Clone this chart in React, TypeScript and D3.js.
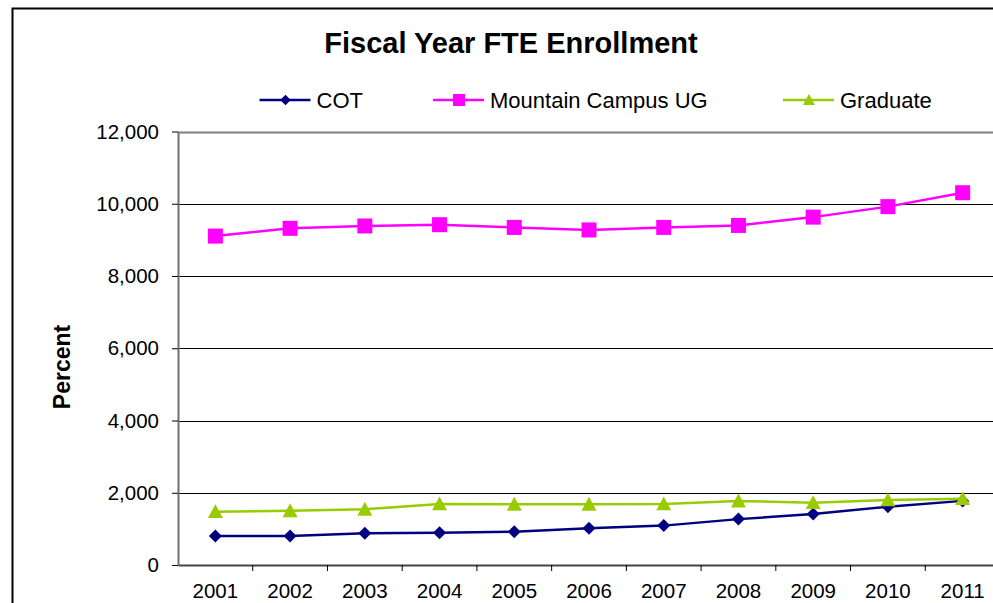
import React, { useEffect, useRef } from "react";
import * as d3 from "d3";

const years = ["2001", "2002", "2003", "2004", "2005", "2006", "2007", "2008", "2009", "2010", "2011"];
const cot = [800, 800, 880, 890, 920, 1015, 1090, 1270, 1410, 1615, 1775];
const mountainUG = [9105, 9320, 9385, 9420, 9345, 9275, 9345, 9400, 9630, 9920, 10305];
const graduate = [1475, 1500, 1540, 1690, 1680, 1680, 1690, 1770, 1725, 1800, 1835];
const yTicks = [0, 2000, 4000, 6000, 8000, 10000, 12000];

const series = [
  { name: "COT", values: cot, color: "#000080", marker: "diamond" },
  { name: "Mountain Campus UG", values: mountainUG, color: "#FF00FF", marker: "square" },
  { name: "Graduate", values: graduate, color: "#99CC00", marker: "triangle" },
];

const App = () => {
  const svgRef = useRef<SVGSVGElement>(null);

  useEffect(() => {
    const width = 993;
    const height = 603;
    const marginLeft = 178;
    const plotRight = 1000;
    const marginTop = 131.5;
    const plotBottom = 565;
    const font = "Liberation Sans, Arial, sans-serif";

    const svg = d3.select(svgRef.current).attr("width", width).attr("height", height);
    svg.selectAll("*").remove();

    svg.append("rect").attr("width", width).attr("height", height).attr("fill", "#fff");

    // outer chart border (cropped at right/bottom)
    svg
      .append("rect")
      .attr("x", 12.5)
      .attr("y", 8.5)
      .attr("width", 1100)
      .attr("height", 700)
      .attr("fill", "none")
      .attr("stroke", "#000")
      .attr("stroke-width", 2);

    const x = d3.scaleBand().domain(years).range([marginLeft, plotRight]);
    const y = d3.scaleLinear().domain([0, 12000]).range([plotBottom, marginTop]);

    // grid lines
    svg
      .append("g")
      .selectAll("line")
      .data(yTicks.slice(1))
      .join("line")
      .attr("x1", marginLeft)
      .attr("x2", plotRight)
      .attr("y1", (d) => Math.round(y(d)) + 0.5)
      .attr("y2", (d) => Math.round(y(d)) + 0.5)
      .attr("stroke", (d) => (d === 12000 ? "#808080" : "#000"))
      .attr("stroke-width", (d) => (d === 12000 ? 2 : 1));

    // y axis
    const yAxis = svg
      .append("g")
      .attr("transform", `translate(${marginLeft}, 0)`)
      .call(
        d3
          .axisLeft(y)
          .tickValues(yTicks)
          .tickSize(6)
          .tickSizeOuter(0)
          .tickPadding(13)
          .tickFormat((d) => d3.format(",")(d as number))
      );
    yAxis.select(".domain").attr("stroke", "#707070").attr("stroke-width", 2);
    yAxis.selectAll(".tick line").attr("stroke", "#000");
    yAxis.selectAll("text").attr("font-family", font).attr("font-size", 20.5).attr("fill", "#000");

    // x axis
    const xAxis = svg
      .append("g")
      .attr("transform", `translate(0, ${plotBottom})`)
      .call(d3.axisBottom(x).tickSize(0).tickPadding(18));
    xAxis.select(".domain").attr("stroke", "#444").attr("stroke-width", 2);
    xAxis.selectAll("text").attr("font-family", font).attr("font-size", 20.5).attr("fill", "#000");
    svg
      .append("g")
      .selectAll("line")
      .data(years.slice(1))
      .join("line")
      .attr("x1", (d) => x(d)!)
      .attr("x2", (d) => x(d)!)
      .attr("y1", plotBottom)
      .attr("y2", plotBottom + 6)
      .attr("stroke", "#000");

    const cx = (i: number) => x(years[i])! + x.bandwidth() / 2;

    const drawMarker = (
      g: d3.Selection<SVGGElement, unknown, null, undefined>,
      type: string,
      px: number,
      py: number,
      color: string,
      k = 1
    ) => {
      if (type === "diamond") {
        const s = 6.5 * k;
        g.append("path")
          .attr("d", `M${px},${py - s}L${px + s},${py}L${px},${py + s}L${px - s},${py}Z`)
          .attr("fill", color);
      } else if (type === "square") {
        const s = 7.5 * k;
        g.append("rect")
          .attr("x", px - s)
          .attr("y", py - s)
          .attr("width", s * 2)
          .attr("height", s * 2)
          .attr("fill", color);
      } else {
        const s = 7.5 * k;
        g.append("path")
          .attr("d", `M${px},${py - s}L${px + s},${py + s * 0.85}L${px - s},${py + s * 0.85}Z`)
          .attr("fill", color);
      }
    };

    const line = d3
      .line<number>()
      .x((_, i) => cx(i))
      .y((d) => y(d));

    series.forEach((s) => {
      const g = svg.append("g");
      g.append("path")
        .datum(s.values)
        .attr("fill", "none")
        .attr("stroke", s.color)
        .attr("stroke-width", 2.5)
        .attr("d", line);
      s.values.forEach((v, i) => drawMarker(g as any, s.marker, cx(i), y(v), s.color));
    });

    // title
    svg
      .append("text")
      .attr("x", 511)
      .attr("y", 53)
      .attr("text-anchor", "middle")
      .attr("font-family", font)
      .attr("font-size", 29)
      .attr("font-weight", "bold")
      .text("Fiscal Year FTE Enrollment");

    // legend
    const legendX = [259.5, 433, 783];
    series.forEach((s, i) => {
      const g = svg.append("g").attr("transform", `translate(${legendX[i]}, 100)`);
      g.append("line").attr("x1", 0).attr("x2", 51).attr("stroke", s.color).attr("stroke-width", 2.5);
      drawMarker(g as any, s.marker, 26, 0, s.color, 0.8);
      g.append("text")
        .attr("x", 57)
        .attr("y", 8)
        .attr("font-family", font)
        .attr("font-size", 22)
        .text(s.name);
    });

    // y-axis label
    svg
      .append("text")
      .attr("transform", "translate(70, 367) rotate(-90)")
      .attr("text-anchor", "middle")
      .attr("font-family", font)
      .attr("font-size", 23)
      .attr("font-weight", "bold")
      .text("Percent");
  }, []);

  return (
    <div style={{ position: "absolute", left: 0, top: 0 }}>
      <svg ref={svgRef} style={{ display: "block" }}></svg>
    </div>
  );
};
export default App;
